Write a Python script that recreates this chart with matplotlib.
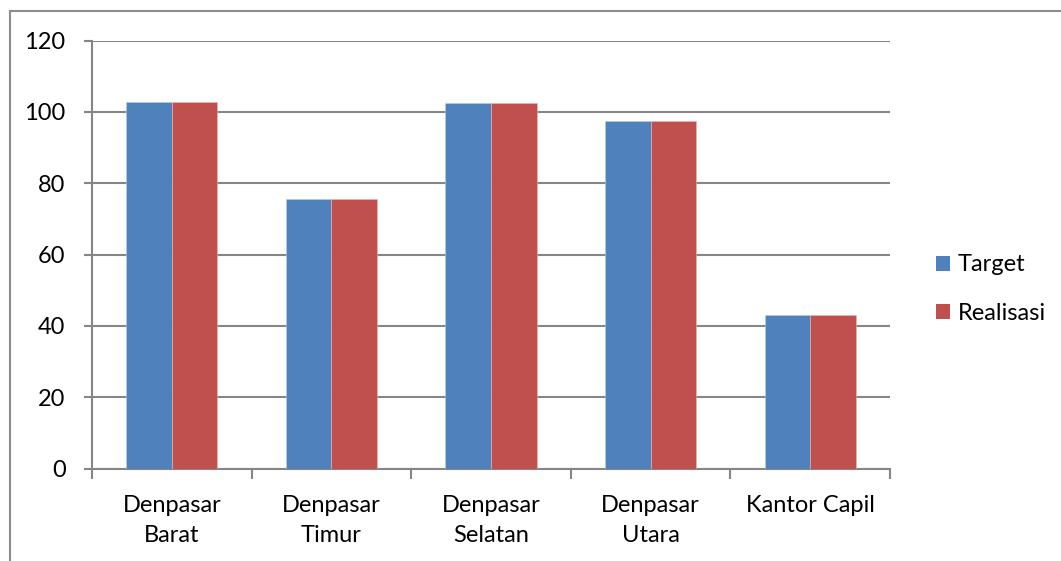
import numpy as np
import matplotlib
matplotlib.use("Agg")
import matplotlib.pyplot as plt
from matplotlib.lines import Line2D
from matplotlib.patches import Patch

plt.rcParams['font.family'] = ['Lato', 'DejaVu Sans']

# data
categories = ["Denpasar\nBarat", "Denpasar\nTimur", "Denpasar\nSelatan", "Denpasar\nUtara", "Kantor Capil"]
target = [102.9, 75.7, 102.6, 97.5, 43.0]
realisasi = [102.9, 75.7, 102.6, 97.5, 43.0]
series_names = ["Target", "Realisasi"]
yticks = [0, 20, 40, 60, 80, 100, 120]

blue = "#4F81BD"
red = "#C0504D"
grid_c = "#868686"

W, H = 1061, 561
fig = plt.figure(figsize=(W / 100, H / 100), dpi=100)
ax = fig.add_axes([92 / W, (H - 468.5) / H, (890 - 92) / W, (468.5 - 40.7) / H])

x = np.arange(len(categories))
bw = 1 / 3.5
ax.bar(x - bw / 2, target, bw, color=blue, edgecolor="#b9cde5", linewidth=0.4, zorder=3)
ax.bar(x + bw / 2, realisasi, bw, color=red, edgecolor="#e6b9b8", linewidth=0.4, zorder=3)

ax.set_xlim(-0.5, len(categories) - 0.5)
ax.set_ylim(0, 120)
ax.set_yticks(yticks)
ax.yaxis.grid(True, color=grid_c, linewidth=1.5, zorder=0)
ax.set_axisbelow(True)

ax.set_xticks(x)
ax.set_xticklabels(categories, fontsize=17, linespacing=1.55)
ax.set_xticks(np.arange(-0.5, len(categories)), minor=True)
ax.tick_params(axis="x", which="major", length=0, pad=19)
ax.tick_params(axis="x", which="minor", length=7, width=1.5, color=grid_c)
ax.tick_params(axis="y", length=6, width=1.5, color=grid_c, labelsize=17, pad=13)

for s in ["top", "right"]:
    ax.spines[s].set_visible(False)
for s in ["left", "bottom"]:
    ax.spines[s].set_color(grid_c)
    ax.spines[s].set_linewidth(1.5)

handles = [Patch(facecolor=blue), Patch(facecolor=red)]
fig.legend(handles, series_names, loc="center left", bbox_to_anchor=(915 / W, (H - 289) / H),
           frameon=False, fontsize=17, handlelength=0.6, handleheight=0.6,
           handletextpad=0.3, labelspacing=1.15)

# outer chart frame (left and top edges visible)
fig.add_artist(Line2D([9.5 / W, 9.5 / W], [0, (H - 10.5) / H], color="#8c8c8c", linewidth=1.5))
fig.add_artist(Line2D([9.5 / W, 1], [(H - 10.5) / H] * 2, color="#8c8c8c", linewidth=1.5))

fig.savefig("out.png", dpi=100)
